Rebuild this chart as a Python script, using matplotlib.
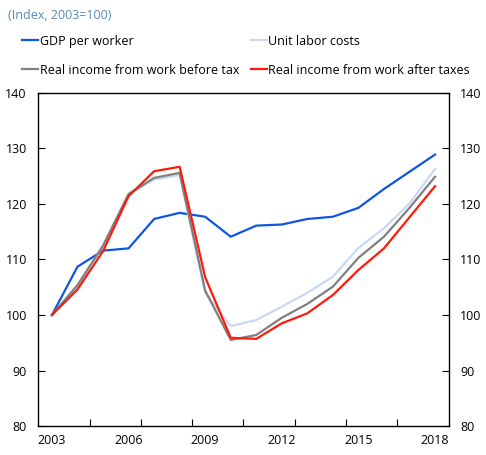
import matplotlib.pyplot as plt

plt.rcParams['font.family'] = ['Open Sans', 'DejaVu Sans']

# data (index, 2003=100)
years = list(range(2003, 2019))
gdp_per_worker = [100, 108.7, 111.6, 112.0, 117.3, 118.4, 117.7, 114.1,
                  116.1, 116.3, 117.3, 117.7, 119.3, 122.7, 125.8, 128.9]
unit_labor_costs = [100, 105.0, 112.5, 121.7, 124.4, 125.2, 104.0, 98.0,
                    99.1, 101.5, 104.0, 106.9, 112.1, 115.6, 120.1, 126.3]
income_before_tax = [100, 105.4, 112.5, 121.8, 124.7, 125.6, 104.4, 95.5,
                     96.4, 99.5, 102.0, 105.1, 110.3, 114.1, 119.3, 124.9]
income_after_tax = [100, 104.6, 111.5, 121.4, 125.9, 126.7, 106.8, 95.9,
                    95.7, 98.5, 100.3, 103.6, 108.1, 112.0, 117.6, 123.2]
year_labels = ['2003', '2006', '2009', '2012', '2015', '2018']

fig = plt.figure(figsize=(4.86, 4.55), dpi=100)
ax = fig.add_axes([0.078, 0.0637, 0.846, 0.732])

x = list(range(len(years)))
l_gdp, = ax.plot(x, gdp_per_worker, color='#1056E0', lw=1.6,
                 label='GDP per worker')
l_ulc, = ax.plot(x, unit_labor_costs, color='#C8D9F8', lw=1.6,
                 label='Unit labor costs')
l_bt, = ax.plot(x, income_before_tax, color='#808080', lw=1.6,
                label='Real income from work before tax')
l_at, = ax.plot(x, income_after_tax, color='#FF1A0A', lw=1.6,
                label='Real income from work after taxes')

ax.set_xlim(-0.55, 15.55)
ax.set_ylim(80, 140)
ax.set_yticks(range(80, 141, 10))

# category-style x axis: tick marks between years, labels every 3 years
ax.set_xticks([1.5, 3.5, 5.5, 7.5, 9.5, 11.5, 13.5])
ax.set_xticklabels([])
ax.set_xticks([0, 3, 6, 9, 12, 15], minor=True)
ax.set_xticklabels(year_labels, minor=True)
ax.tick_params(axis='x', which='minor', length=0, labelsize=9, pad=6)
ax.tick_params(axis='x', which='major', direction='in', length=5)
ax.tick_params(axis='y', direction='in', length=5, labelsize=9,
               left=True, right=True, labelleft=True, labelright=True, pad=8)

for s in ax.spines.values():
    s.set_linewidth(1.0)

fig.text(0.016, 0.967, '(Index, 2003=100)', color='#5A8AB8', fontsize=9,
         va='center', ha='left')

# legend filled column-wise, so order handles to get row-wise layout
handles = [l_gdp, l_bt, l_ulc, l_at]
fig.legend(handles=handles, labels=[h.get_label() for h in handles],
           loc='upper left', bbox_to_anchor=(0.035, 0.935), ncol=2,
           frameon=False, fontsize=9, handlelength=1.3, handletextpad=0.1,
           columnspacing=0.95, labelspacing=1.3, borderaxespad=0)

fig.savefig('out.png', dpi=100)
